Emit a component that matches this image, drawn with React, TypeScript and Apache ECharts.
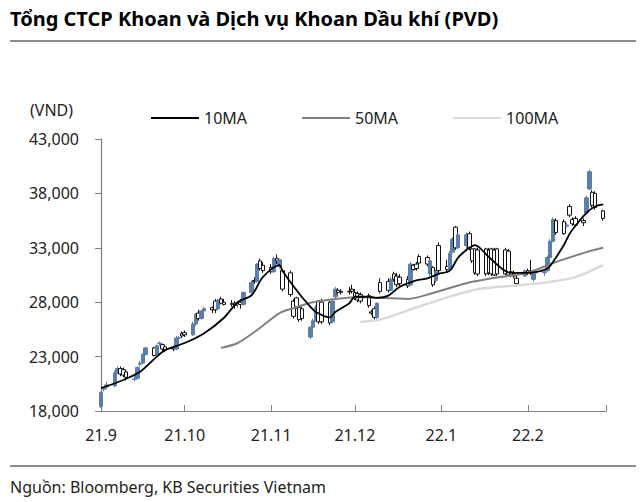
import React, { useEffect, useRef } from "react";
import * as echarts from "echarts";

// [day, open, close, low, high]
const sep2021 = [
  [1, 18400, 19700, 18300, 19800], [2, 20000, 20050, 19800, 20200], [3, 20200, 20400, 20000, 20700],
  [6, 20300, 21500, 20200, 21700], [7, 21500, 21900, 21400, 22100], [8, 21900, 21400, 21200, 22100],
  [9, 21800, 21300, 21100, 22000], [10, 21600, 21100, 20800, 21800], [13, 20900, 20950, 20700, 21200],
  [14, 21000, 22000, 20900, 22100], [15, 22300, 22400, 22100, 22600], [16, 22400, 23200, 22300, 23300],
  [17, 23200, 23800, 23100, 23900], [20, 23800, 23100, 23000, 23900], [21, 23200, 24000, 23100, 24100],
  [22, 24200, 24250, 24000, 24400], [23, 24100, 23700, 23500, 24200], [24, 23900, 23600, 23400, 24000],
  [27, 23800, 23700, 23500, 24000], [28, 23700, 24700, 23600, 24900], [29, 24700, 24750, 24500, 24900],
  [30, 25100, 24900, 24700, 25300],
];
const oct2021 = [
  [1, 25200, 25000, 24800, 25400], [4, 25000, 26000, 24900, 26200], [5, 26000, 26900, 25800, 27000],
  [6, 27000, 26500, 26300, 27300], [7, 26500, 27200, 26400, 27300], [8, 27200, 27400, 26900, 27600],
  [11, 27500, 27300, 27000, 27600], [12, 28100, 27300, 27000, 28300], [13, 27400, 28200, 27300, 28300],
  [14, 28300, 27900, 27800, 28500], [15, 28000, 27800, 27700, 28300], [18, 27900, 27800, 27600, 28200],
  [19, 27900, 27700, 27400, 28100], [20, 27850, 27900, 27500, 28100], [21, 28000, 27800, 27400, 28300],
  [22, 27800, 28900, 27700, 29000], [25, 28900, 29800, 28800, 30000], [26, 30000, 29900, 29700, 30300],
  [27, 29900, 31500, 29800, 31600], [28, 31800, 31100, 30900, 32000], [29, 31400, 30900, 30700, 31700],
];
const nov2021 = [
  [1, 31200, 30800, 30600, 31500], [2, 30800, 32000, 30700, 32200], [3, 32000, 31800, 31500, 32400],
  [4, 31300, 31900, 31100, 32000], [5, 30900, 29200, 29000, 31000], [8, 30700, 28700, 28500, 30900],
  [9, 28100, 26700, 26500, 28300], [10, 28400, 27600, 27400, 28500], [11, 27500, 26400, 26200, 27700],
  [12, 27400, 26500, 26300, 27600], [15, 24800, 25700, 24600, 25800], [16, 25700, 26300, 25600, 26500],
  [17, 26300, 27500, 26200, 27700], [18, 28100, 26200, 26000, 28200], [19, 28000, 26200, 26000, 28300],
  [22, 28000, 26100, 25900, 28100], [23, 26200, 28100, 26100, 28300], [24, 28500, 29200, 28300, 29400],
  [25, 29100, 28900, 28700, 29300], [26, 29000, 28900, 28700, 29200], [29, 29000, 28950, 28700, 29400],
  [30, 29200, 29000, 28800, 29600],
];
const dec2021 = [
  [1, 28900, 28400, 28200, 29200], [2, 28800, 28200, 28000, 29000], [3, 28700, 28100, 27900, 28900],
  [6, 28600, 27700, 27500, 28800], [7, 27100, 27000, 26800, 27300], [8, 27400, 26600, 26400, 27600],
  [9, 26600, 27900, 26400, 28000], [10, 29800, 29000, 28800, 30200], [13, 29900, 29100, 28900, 30200],
  [14, 29100, 30100, 29000, 30300], [15, 30600, 30100, 29900, 30800], [16, 30400, 29600, 29400, 30700],
  [17, 30300, 29700, 29500, 30600], [20, 30100, 29500, 29300, 30400], [21, 29600, 31500, 29500, 31700],
  [22, 31400, 31000, 30900, 31500], [23, 31500, 31100, 30900, 31700], [24, 32200, 31600, 31400, 32400],
  [27, 32100, 31500, 31300, 32300], [28, 30600, 31800, 30400, 32000], [29, 31200, 29600, 29400, 31300],
  [30, 30000, 30800, 29800, 31000], [31, 33200, 30900, 30700, 33500],
];
const jan2022 = [
  [3, 31300, 31000, 30800, 31900], [4, 31000, 32500, 30900, 32700], [5, 32600, 33800, 32500, 34000],
  [6, 34900, 33000, 32800, 35000], [7, 33000, 34200, 32900, 34300], [10, 33200, 34200, 32900, 34400],
  [11, 34300, 33000, 32800, 34500], [12, 32900, 31800, 31600, 33000], [13, 32900, 30700, 30500, 33000],
  [14, 32800, 30600, 30400, 33000], [17, 32900, 30600, 30400, 33000], [18, 32800, 30700, 30500, 33000],
  [19, 32900, 30600, 30400, 33000], [20, 32800, 30500, 30400, 33000], [21, 32900, 30600, 30400, 33000],
  [24, 32800, 30600, 30500, 33000], [25, 32700, 30500, 30400, 32900], [26, 30800, 30500, 30300, 31000],
  [27, 30600, 30400, 30200, 30900], [28, 30200, 29700, 29400, 30400], [31, 30400, 30900, 30300, 31000],
];
const feb2022 = [
  [1, 30900, 30700, 30500, 31100], [2, 30800, 30700, 30500, 31900], [3, 30100, 30900, 29900, 31000],
  [4, 30700, 30800, 30400, 31000], [7, 30700, 30800, 30400, 31000], [8, 30900, 32100, 30800, 32300],
  [9, 32100, 33600, 32000, 33800], [10, 33600, 35600, 33500, 35800], [11, 35500, 34400, 34200, 35700],
  [14, 35400, 34300, 34200, 35600], [15, 35000, 35100, 34900, 35300], [16, 36800, 36000, 35800, 37000],
  [17, 35600, 35200, 35000, 35800], [18, 35700, 35100, 35000, 35900], [21, 35500, 35300, 35000, 35700],
  [22, 36200, 37600, 36100, 37800], [23, 38400, 40000, 38300, 40200], [24, 38100, 36900, 36700, 38300],
  [25, 38000, 36700, 36500, 38200], [28, 36400, 35700, 35500, 36500],
];

const ma10Points = [
  ["2021-09-01", 20100], ["2021-09-09", 20850], ["2021-09-15", 21600], ["2021-09-21", 23000],
  ["2021-09-24", 23600], ["2021-10-01", 24250], ["2021-10-08", 25150], ["2021-10-15", 26550],
  ["2021-10-20", 28000], ["2021-10-25", 28650], ["2021-10-29", 30300], ["2021-11-04", 31400],
  ["2021-11-05", 30900], ["2021-11-11", 28800], ["2021-11-15", 27600], ["2021-11-17", 27100],
  ["2021-11-22", 26600], ["2021-11-24", 27100], ["2021-11-29", 27900], ["2021-12-01", 28500],
  ["2021-12-06", 28500], ["2021-12-09", 28400], ["2021-12-13", 28600], ["2021-12-17", 29400],
  ["2021-12-23", 30000], ["2021-12-27", 30200], ["2021-12-31", 30600], ["2022-01-04", 30900],
  ["2022-01-07", 32100], ["2022-01-11", 33000], ["2022-01-13", 33250], ["2022-01-18", 32150],
  ["2022-01-25", 30750], ["2022-01-28", 30700], ["2022-02-03", 30750], ["2022-02-08", 31100],
  ["2022-02-10", 31700], ["2022-02-14", 33300], ["2022-02-16", 34300], ["2022-02-18", 35000],
  ["2022-02-22", 36200], ["2022-02-25", 36800], ["2022-02-28", 37000],
];
const ma50Points = [
  ["2021-10-14", 23800], ["2021-10-20", 24250], ["2021-10-27", 25450], ["2021-11-04", 27000],
  ["2021-11-09", 27450], ["2021-11-16", 28000], ["2021-12-03", 28450], ["2021-12-20", 28300],
  ["2021-12-29", 28850], ["2022-01-10", 29750], ["2022-01-19", 30200], ["2022-02-01", 30700],
  ["2022-02-10", 31600], ["2022-02-22", 32600], ["2022-02-28", 33000],
];
const ma100Points = [
  ["2021-12-03", 26200], ["2021-12-10", 26400], ["2021-12-24", 27600], ["2022-01-05", 28600],
  ["2022-01-14", 29200], ["2022-01-26", 29500], ["2022-02-07", 29800], ["2022-02-18", 30300],
  ["2022-02-28", 31400],
];

const months = [
  ["2021-09", sep2021], ["2021-10", oct2021], ["2021-11", nov2021],
  ["2021-12", dec2021], ["2022-01", jan2022], ["2022-02", feb2022],
] as const;

const seriesNames = ["10MA", "50MA", "100MA"];
const FONT = '"Noto Sans", sans-serif';

function buildCategories(): string[] {
  const out: string[] = [];
  const d = new Date(Date.UTC(2021, 8, 1));
  const end = Date.UTC(2022, 2, 1);
  while (d.getTime() <= end) {
    out.push(d.toISOString().slice(0, 10));
    d.setUTCDate(d.getUTCDate() + 1);
  }
  return out;
}

export default function App() {
  const ref = useRef<HTMLDivElement>(null);
  useEffect(() => {
    if (!ref.current) return;
    const chart = echarts.init(ref.current, undefined, { renderer: "svg" });
    const cats = buildCategories();
    const candleMap = new Map<string, number[]>();
    months.forEach(([ym, rows]) => {
      (rows as number[][]).forEach((r) => {
        const key = `${ym}-${String(r[0]).padStart(2, "0")}`;
        candleMap.set(key, [r[1], r[2], r[3], r[4]]);
      });
    });
    const candleData = cats.map((c) => candleMap.get(c) ?? "-");
    const toLine = (pts: (string | number)[][]) => {
      const m = new Map(pts.map((p) => [p[0] as string, p[1] as number]));
      return cats.map((c) => (m.has(c) ? m.get(c) : "-"));
    };
    const isMonthStart = (_i: number, v: string) => v.endsWith("-01");
    chart.setOption({
      animation: false,
      backgroundColor: "#fff",
      grid: { left: 101, right: 34, top: 139, bottom: 91 },
      legend: {
        data: seriesNames,
        left: 146,
        top: 105,
        itemWidth: 48,
        itemHeight: 2,
        itemGap: 55,
        icon: "rect",
        textStyle: { fontFamily: FONT, fontSize: 16, color: "#222" },
      },
      xAxis: {
        type: "category",
        data: cats,
        boundaryGap: false,
        axisLine: { lineStyle: { color: "#7f7f7f", width: 1.2 } },
        axisTick: { interval: isMonthStart, inside: true, length: 6, lineStyle: { color: "#7f7f7f" } },
        axisLabel: {
          interval: (i: number, v: string) => v.endsWith("-01") && v !== "2022-03-01",
          formatter: (v: string) => `${v.slice(2, 4)}.${parseInt(v.slice(5, 7), 10)}`,
          fontFamily: FONT,
          fontSize: 16,
          color: "#222",
          margin: 16,
        },
        splitLine: { show: false },
      },
      yAxis: {
        type: "value",
        min: 18000,
        max: 43000,
        interval: 5000,
        axisLine: { show: true, lineStyle: { color: "#7f7f7f", width: 1.2 } },
        axisTick: { show: true, length: 6, lineStyle: { color: "#7f7f7f" } },
        splitLine: { show: false },
        axisLabel: {
          formatter: (v: number) => v.toLocaleString("en-US"),
          fontFamily: FONT,
          fontSize: 16,
          color: "#222",
          margin: 22,
        },
      },
      series: [
        {
          type: "candlestick",
          data: candleData,
          barWidth: 4,
          itemStyle: {
            color: "#5b7fa8",
            color0: "#ffffff",
            borderColor: "#5b7fa8",
            borderColor0: "#111111",
            borderWidth: 1,
          },
          z: 2,
        },
        {
          name: "100MA", type: "line", data: toLine(ma100Points), connectNulls: true, showSymbol: false,
          smooth: 0.3, lineStyle: { color: "#d9d9d9", width: 2.5 }, itemStyle: { color: "#d9d9d9" }, z: 3,
        },
        {
          name: "50MA", type: "line", data: toLine(ma50Points), connectNulls: true, showSymbol: false,
          smooth: 0.3, lineStyle: { color: "#808080", width: 2 }, itemStyle: { color: "#808080" }, z: 4,
        },
        {
          name: "10MA", type: "line", data: toLine(ma10Points), connectNulls: true, showSymbol: false,
          smooth: 0.3, lineStyle: { color: "#000000", width: 1.8 }, itemStyle: { color: "#000000" }, z: 5,
        },
      ],
      graphic: [
        {
          type: "text", x: 10, y: 18,
          style: {
            text: "Tổng CTCP Khoan và Dịch vụ Khoan Dầu khí (PVD)", fontFamily: FONT, fontSize: 20,
            fontWeight: "bold", fill: "#000", verticalAlign: "middle",
          },
        },
        { type: "line", shape: { x1: 10, y1: 41, x2: 636, y2: 41 }, style: { stroke: "#666", lineWidth: 1.5 } },
        {
          type: "text", x: 30, y: 110,
          style: { text: "(VND)", fontFamily: FONT, fontSize: 16, fill: "#222", verticalAlign: "middle" },
        },
        { type: "line", shape: { x1: 10, y1: 466, x2: 636, y2: 466 }, style: { stroke: "#666", lineWidth: 1.5 } },
        {
          type: "text", x: 10, y: 487,
          style: {
            text: "Nguồn: Bloomberg, KB Securities Vietnam", fontFamily: FONT, fontSize: 16,
            fill: "#222", verticalAlign: "middle",
          },
        },
      ],
    });
    return () => chart.dispose();
  }, []);
  return (
    <div
      ref={ref}
      style={{ position: "fixed", left: 0, top: 0, width: 640, height: 502, background: "#fff" }}
    />
  );
}
